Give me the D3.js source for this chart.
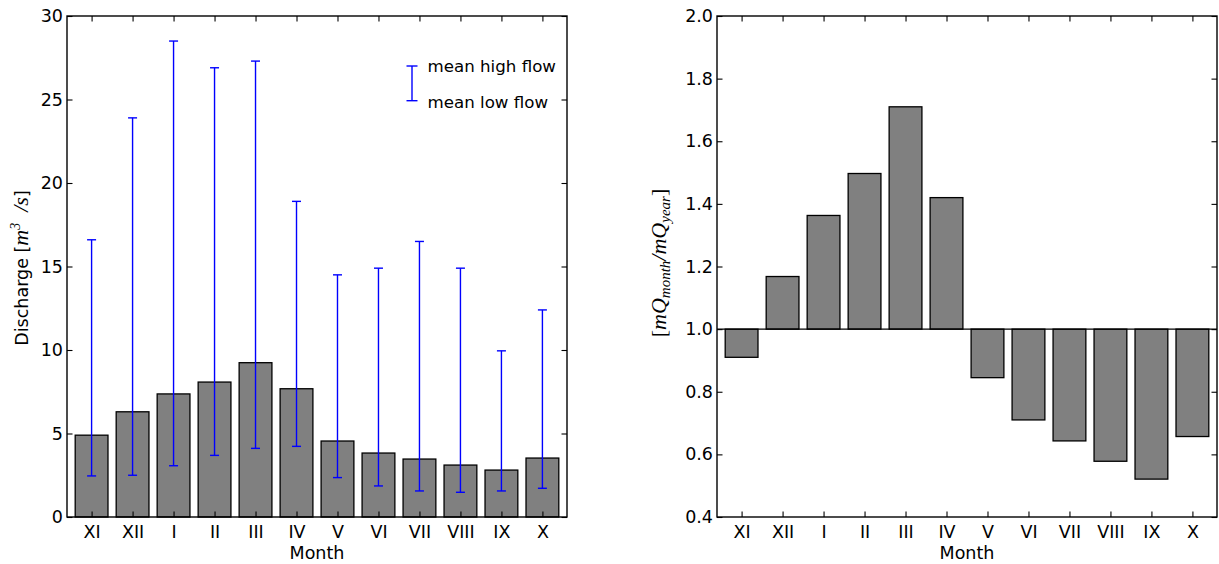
<!DOCTYPE html>
<html>
<head>
<meta charset="utf-8">
<script src="https://cdn.jsdelivr.net/npm/d3@7"></script>
<style>
  body { margin: 0; background: #fff; }
  svg { display: block; }
  text { font-family: "DejaVu Sans", sans-serif; font-size: 17.5px; fill: #000; }
  .math { font-family: "Liberation Serif", serif; font-style: italic; }
</style>
</head>
<body>
<script>
// Datos
var meses = ["XI", "XII", "I", "II", "III", "IV", "V", "VI", "VII", "VIII", "IX", "X"];
var caudalMedio = [4.9, 6.3, 7.37, 8.08, 9.24, 7.68, 4.55, 3.83, 3.47, 3.11, 2.81, 3.53];
var caudalAlto = [16.6, 23.9, 28.5, 26.9, 27.3, 18.9, 14.5, 14.9, 16.5, 14.9, 9.95, 12.4];
var caudalBajo = [2.46, 2.5, 3.07, 3.69, 4.11, 4.23, 2.36, 1.86, 1.56, 1.48, 1.56, 1.72];
var coeficiente = [0.91, 1.168, 1.363, 1.497, 1.71, 1.42, 0.845, 0.71, 0.643, 0.578, 0.521, 0.657];
var ticksCaudal = [0, 5, 10, 15, 20, 25, 30];
var ticksCoef = [0.4, 0.6, 0.8, 1.0, 1.2, 1.4, 1.6, 1.8, 2.0];

var datos = meses.map(function(m, i) {
    return { mes: m, i: i, medio: caudalMedio[i], alto: caudalAlto[i], bajo: caudalBajo[i], coef: coeficiente[i] };
});

var W = 1219, H = 564;
var width = 500, height = 501, top0 = 16;
var tick = 5.5;

var svg = d3.select("body").append("svg")
    .attr("width", W)
    .attr("height", H);

//Función para montar un panel con sus escalas
function panel(left, yDom, yTicks, fmt) {
    var g = svg.append("g").attr("transform", "translate(" + left + "," + top0 + ")");
    var x = d3.scaleLinear().domain([-0.6, 11.6]).range([0, width]);
    var y = d3.scaleLinear().domain(yDom).range([height, 0]);
    return { g: g, x: x, y: y, ticks: yTicks, fmt: fmt };
}

//Ejes con ticks hacia dentro en los cuatro lados y marco
function ejes(p) {
    var g = p.g, x = p.x, y = p.y;
    var idx = d3.range(meses.length);

    var ax = g.append("g").call(d3.axisLeft(y).tickValues(p.ticks).tickFormat(p.fmt).tickSize(-tick).tickPadding(4));
    var ax2 = g.append("g").attr("transform", "translate(" + width + ",0)")
        .call(d3.axisRight(y).tickValues(p.ticks).tickFormat("").tickSize(-tick));
    var ax3 = g.append("g").call(d3.axisTop(x).tickValues(idx).tickFormat("").tickSize(-tick));
    var ax4 = g.append("g").attr("transform", "translate(0," + height + ")")
        .call(d3.axisBottom(x).tickValues(idx).tickFormat(function(d) { return meses[d]; }).tickSize(-tick));
    ax4.selectAll("text").attr("y", 21).attr("dy", null);

    [ax, ax2, ax3, ax4].forEach(function(a) {
        a.select(".domain").remove();
        a.selectAll("line").attr("stroke", "#000").attr("stroke-width", 1.1);
        a.selectAll("text").style("font-family", "DejaVu Sans").style("font-size", "17.5px").attr("fill", "#000");
    });

    g.append("rect")
        .attr("width", width).attr("height", height)
        .attr("fill", "none").attr("stroke", "#000").attr("stroke-width", 1.4);

    g.append("text")
        .attr("x", width / 2).attr("y", 543)
        .attr("text-anchor", "middle")
        .text("Month");
}

// ---- Panel izquierdo: caudal medio con caudales altos/bajos
var p1 = panel(67, [0, 30], ticksCaudal, d3.format("d"));
var bw = p1.x(0.8) - p1.x(0);

p1.g.selectAll("rect.bar").data(datos).enter().append("rect")
    .attr("class", "bar")
    .attr("x", function(d) { return p1.x(d.i) - bw / 2; })
    .attr("y", function(d) { return p1.y(d.medio); })
    .attr("width", bw)
    .attr("height", function(d) { return p1.y(0) - p1.y(d.medio); })
    .attr("fill", "#808080").attr("stroke", "#000").attr("stroke-width", 1.3);

var eb = p1.g.append("g").attr("stroke", "#0000ff").attr("stroke-width", 1.4);
eb.selectAll("line.v").data(datos).enter().append("line")
    .attr("x1", function(d) { return p1.x(d.i); })
    .attr("x2", function(d) { return p1.x(d.i); })
    .attr("y1", function(d) { return p1.y(d.bajo); })
    .attr("y2", function(d) { return p1.y(d.alto); });
["alto", "bajo"].forEach(function(k) {
    eb.selectAll("line.c" + k).data(datos).enter().append("line")
        .attr("x1", function(d) { return p1.x(d.i) - 4.5; })
        .attr("x2", function(d) { return p1.x(d.i) + 4.5; })
        .attr("y1", function(d) { return p1.y(d[k]); })
        .attr("y2", function(d) { return p1.y(d[k]); });
});

ejes(p1);

// leyenda
var ley = p1.g.append("g").attr("transform", "translate(345,0)");
ley.append("line").attr("x1", 0).attr("x2", 0).attr("y1", 50).attr("y2", 84.7)
    .attr("stroke", "#0000ff").attr("stroke-width", 1.4);
[50, 84.7].forEach(function(yy) {
    ley.append("line").attr("x1", -5.5).attr("x2", 5.5).attr("y1", yy).attr("y2", yy)
        .attr("stroke", "#0000ff").attr("stroke-width", 1.4);
});
ley.append("text").attr("x", 15.5).attr("y", 55.7).style("font-size", "16.67px").text("mean high flow");
ley.append("text").attr("x", 15.5).attr("y", 92.3).style("font-size", "16.67px").text("mean low flow");

// etiqueta eje Y izquierdo
var yl = svg.append("text")
    .attr("transform", "translate(28,268) rotate(-90)")
    .attr("text-anchor", "middle");
yl.append("tspan").text("Discharge [");
yl.append("tspan").attr("class", "math").style("font-size", "22px").text("m");
yl.append("tspan").attr("class", "math").style("font-size", "14px").attr("dy", -8).text("3");
yl.append("tspan").attr("class", "math").style("font-size", "22px").attr("dy", 8).text("\u2002/");
yl.append("tspan").attr("class", "math").style("font-size", "22px").text("s");
yl.append("tspan").text("]");

// ---- Panel derecho: coeficiente mensual
var p2 = panel(717, [0.4, 2.0], ticksCoef, d3.format(".1f"));
var bw2 = p2.x(0.8) - p2.x(0);

p2.g.selectAll("rect.bar").data(datos).enter().append("rect")
    .attr("class", "bar")
    .attr("x", function(d) { return p2.x(d.i) - bw2 / 2; })
    .attr("y", function(d) { return Math.min(p2.y(d.coef), p2.y(1)); })
    .attr("width", bw2)
    .attr("height", function(d) { return Math.abs(p2.y(d.coef) - p2.y(1)); })
    .attr("fill", "#808080").attr("stroke", "#000").attr("stroke-width", 1.3);

p2.g.append("line")
    .attr("x1", 0).attr("x2", width)
    .attr("y1", p2.y(1)).attr("y2", p2.y(1))
    .attr("stroke", "#000").attr("stroke-width", 1.4);

ejes(p2);

var yr = svg.append("text")
    .attr("class", "math")
    .attr("transform", "translate(666,263) rotate(-90)")
    .attr("text-anchor", "middle")
    .style("font-size", "22px");
yr.append("tspan").style("font-style", "normal").text("[");
yr.append("tspan").text("mQ");
yr.append("tspan").style("font-size", "15px").attr("dy", 4).text("month");
yr.append("tspan").attr("dy", -4).text("/mQ");
yr.append("tspan").style("font-size", "15px").attr("dy", 4).text("year");
yr.append("tspan").style("font-style", "normal").attr("dy", -4).text("]");
</script>
</body>
</html>
